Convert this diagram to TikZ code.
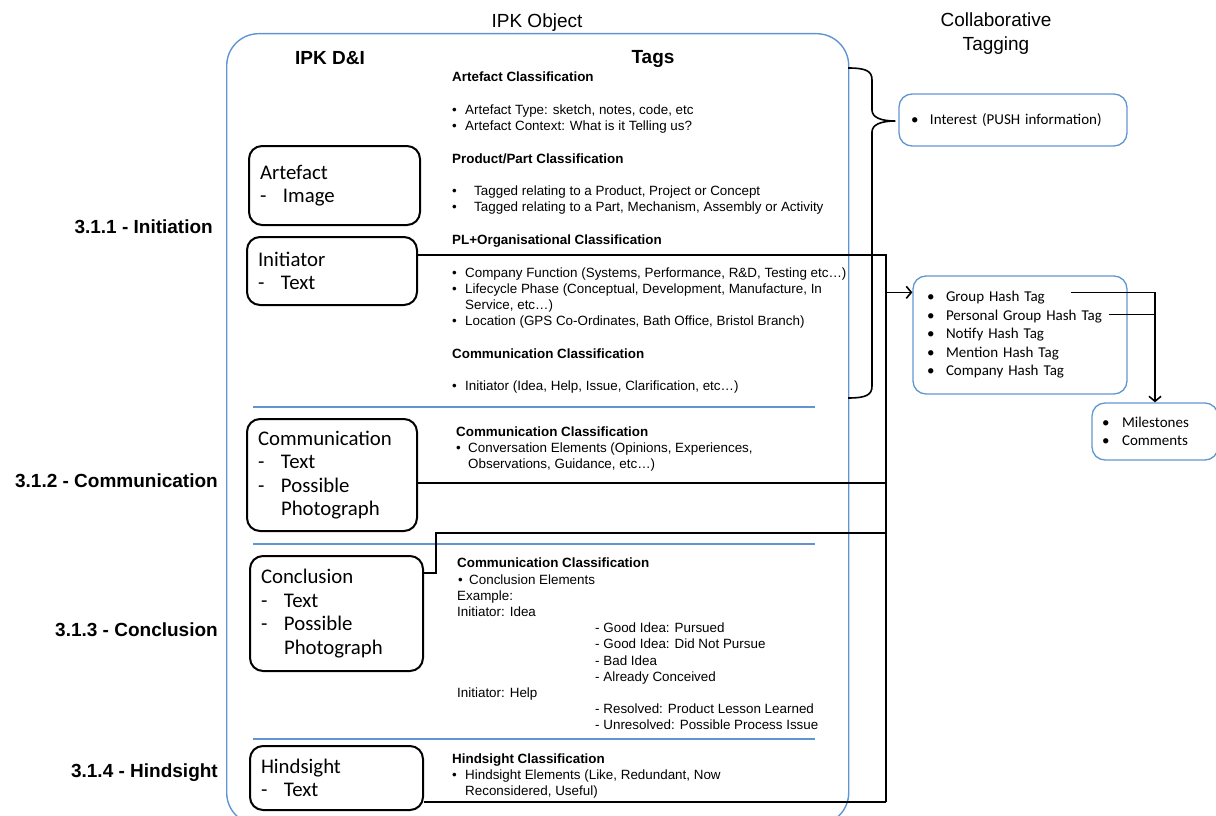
\documentclass[tikz,border=0pt]{standalone}
\usepackage{fontspec}
\setmainfont{Liberation Sans}
\newfontfamily\calibri{Carlito}
\usetikzlibrary{arrows.meta,calc}
\definecolor{ipkblue}{RGB}{95,150,210}
\newcommand\tagbul[2][13pt]{\makebox[#1][l]{•}#2}
\newcommand\boxbul[2][19pt]{\makebox[#1][l]{•}#2}
\newcommand\dibul[1]{\makebox[23pt][l]{-}#1}

\begin{document}
\begin{tikzpicture}[x=1pt,y=-1pt,
    item node/.style={draw,line width=2pt,rounded corners=13pt,align=left,inner xsep=11pt,
                      font=\calibri\fontsize{20.8}{23.5}\selectfont},
    collab node/.style={draw=ipkblue,line width=1.3pt,rounded corners=13pt,align=left,
                      font=\calibri\fontsize{15}{18.5}\selectfont},
    tag text/.style={anchor=north west,inner sep=0pt,align=left,font=\fontsize{13.4}{16.26}\selectfont},
    title/.style={align=center,font=\fontsize{19}{24}\selectfont},
    head/.style={font=\bfseries\fontsize{19}{24}\selectfont},
    section/.style={anchor=east,inner sep=0pt,font=\bfseries\fontsize{19}{24}\selectfont},
    divider/.style={draw=ipkblue,line width=1.3pt},
    link/.style={line width=1.6pt},
    arrow/.style={link,-{Straight Barb[length=5pt,width=12pt]}}]

  \useasboundingbox (0,0) rectangle (1216,816);

  \node[draw=ipkblue,line width=1.4pt,rounded corners=32pt,minimum width=622pt,minimum height=791pt,
        anchor=north west,inner sep=0pt] (ipk) at (226,33) {};
  \node[title] (ipk title) at (537,23) {IPK Object};
  \node[title] (collab title) at (996,34) {Collaborative\\Tagging};
  \node[head] (di head) at (330,58) {IPK D\&I};
  \node[head] (tags head) at (653,59) {Tags};

  \node[section] (sec1) at (213,227) {3.1.1 - Initiation};
  \node[section] (sec2) at (218,481) {3.1.2 - Communication};
  \node[section] (sec3) at (218,630) {3.1.3 - Conclusion};
  \node[section] (sec4) at (218,773) {3.1.4 - Hindsight};

  \node[item node,minimum width=171pt,minimum height=79pt,text width=149pt] (artefact) at (334.5,185.5)
    {Artefact\\\dibul{Image}};
  \node[item node,minimum width=170pt,minimum height=68pt,text width=148pt] (initiator) at (332,271)
    {Initiator\\\dibul{Text}};
  \node[item node,minimum width=170pt,minimum height=112pt,text width=148pt] (comm) at (332,475)
    {Communication\\\dibul{Text}\\\dibul{Possible}\\\hspace*{23pt}Photograph};
  \node[item node,minimum width=173pt,minimum height=115pt,text width=151pt] (conc) at (336.5,613.5)
    {Conclusion\\\dibul{Text}\\\dibul{Possible}\\\hspace*{23pt}Photograph};
  \node[item node,minimum width=173pt,minimum height=64pt,text width=151pt] (hind) at (336.5,778)
    {Hindsight\\\dibul{Text}};

  \node[tag text] (tags1) at (452,72) {%
    \textbf{Artefact Classification}\\[16.26pt]
    \tagbul{Artefact Type: sketch, notes, code, etc}\\
    \tagbul{Artefact Context: What is it Telling us?}\\[16.26pt]
    \textbf{Product/Part Classification}\\[16.26pt]
    \tagbul[22pt]{Tagged relating to a Product, Project or Concept}\\
    \tagbul[22pt]{Tagged relating to a Part, Mechanism, Assembly or Activity}\\[16.26pt]
    \textbf{PL+Organisational Classification}\\[16.26pt]
    \tagbul{Company Function (Systems, Performance, R\&D, Testing etc…)}\\
    \tagbul{Lifecycle Phase (Conceptual, Development, Manufacture, In}\\
    \hspace*{13pt}Service, etc…)\\
    \tagbul{Location (GPS Co-Ordinates, Bath Office, Bristol Branch)}\\[16.26pt]
    \textbf{Communication Classification}\\[16.26pt]
    \tagbul{Initiator (Idea, Help, Issue, Clarification, etc…)}};
  \node[tag text,font=\fontsize{13.4}{15.6}\selectfont] (tags2) at (456,427) {%
    \textbf{Communication Classification}\\
    \tagbul[12pt]{Conversation Elements (Opinions, Experiences,}\\
    \hspace*{12pt}Observations, Guidance, etc…)};
  \node[tag text,font=\fontsize{13.4}{16.2}\selectfont] (tags3) at (457,558) {%
    \textbf{Communication Classification}\\
    \hspace*{1pt}\tagbul[11pt]{Conclusion Elements}\\
    Example:\\
    Initiator: Idea\\
    \hspace*{138pt}- Good Idea: Pursued\\
    \hspace*{138pt}- Good Idea: Did Not Pursue\\
    \hspace*{138pt}- Bad Idea\\
    \hspace*{138pt}- Already Conceived\\
    Initiator: Help\\
    \hspace*{138pt}- Resolved: Product Lesson Learned\\
    \hspace*{138pt}- Unresolved: Possible Process Issue};
  \node[tag text,font=\fontsize{13.4}{16}\selectfont] (tags4) at (452,754) {%
    \textbf{Hindsight Classification}\\
    \tagbul{Hindsight Elements (Like, Redundant, Now}\\
    \hspace*{13pt}Reconsidered, Useful)};

  \draw[divider] (253,407) -- (815,407);
  \draw[divider] (253,544) -- (815,544);
  \draw[divider] (253,739) -- (815,739);

  \node[collab node,minimum width=228pt,minimum height=52pt,inner xsep=12pt,text width=204pt] (interest) at (1013,120)
    {\boxbul{Interest (PUSH information)}};
  \node[collab node,minimum width=214pt,minimum height=118pt,inner xsep=14pt,text width=186pt] (hash) at (1020,335)
    {\boxbul{Group Hash Tag}\\\boxbul{Personal Group Hash Tag}\\\boxbul{Notify Hash Tag}\\
     \boxbul{Mention Hash Tag}\\\boxbul{Company Hash Tag}};
  \node[collab node,minimum width=126pt,minimum height=57pt,inner xsep=10pt,text width=106pt] (miles) at (1155,431.5)
    {\boxbul[20pt]{Milestones}\\\boxbul[20pt]{Comments}};

  \coordinate (bus top) at (886,255);
  \coordinate (bus bottom) at (886,802);
  \coordinate (brace top) at (848,68);
  \coordinate (brace bottom) at (848,398);
  \coordinate (brace tip) at ($(interest.west)+(-3,1)$);
  \coordinate (comm out) at ($(comm.east)+(0,8)$);
  \coordinate (conc out) at ($(conc.east)+(0,-40.5)$);
  \coordinate (conc in) at (886,533);
  \coordinate (hind out) at ($(hind.east)+(0,24)$);
  \coordinate (hash in) at ($(hash.north west)+(0,17)$);
  \coordinate (group out) at ($(hash.north east)+(-57,17)$);
  \coordinate (personal out) at ($(hash.north east)+(-19,39)$);

  \draw[link] (brace top) .. controls (866,68) and (872,71) .. (872,80) -- (872,110)
    .. controls (872,117) and (880,121) .. (brace tip)
    .. controls (880,121) and (872,125) .. (872,132) -- (872,386)
    .. controls (872,395) and (866,398) .. (brace bottom);

  \draw[link] ([yshift=16pt]initiator.east) -- (bus top) -- (bus bottom);
  \draw[link] (comm out) -- (comm out -| bus top);
  \draw[link] (conc out) -- ++(12,0) |- (conc in);
  \draw[link] (hind out) -- (hind out -| bus top);
  \draw[arrow] (hash in -| bus top) -- (hash in);
  \draw[arrow] (group out) -| (miles.north);
  \draw[link] (personal out) -- (personal out -| miles.north);
\end{tikzpicture}
\end{document}
